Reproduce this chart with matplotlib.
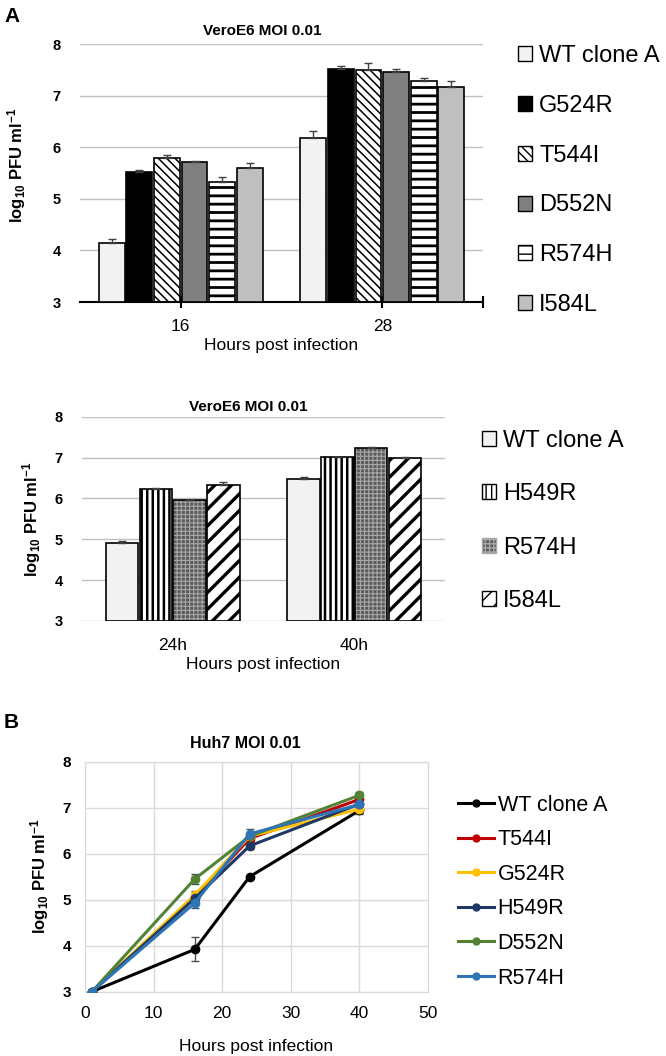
import matplotlib
matplotlib.use("Agg")
import matplotlib.pyplot as plt
from matplotlib.patches import Patch
from matplotlib.lines import Line2D
import numpy as np

plt.rcParams['font.family'] = ['Liberation Sans', 'DejaVu Sans']
plt.rcParams['mathtext.fontset'] = 'custom'
plt.rcParams['mathtext.rm'] = 'Liberation Sans:bold'
plt.rcParams['mathtext.it'] = 'Liberation Sans:bold'
plt.rcParams['mathtext.bf'] = 'Liberation Sans:bold'

# ---------------- data ----------------
a1_times = ['16', '28']
a1_strains = ['WT clone A', 'G524R', 'T544I', 'D552N', 'R574H', 'I584L']
a1_values = [[4.14, 5.51, 5.80, 5.71, 5.32, 5.59],
             [6.17, 7.51, 7.50, 7.45, 7.28, 7.17]]
a1_errors = [[0.08, 0.05, 0.05, 0.03, 0.11, 0.10],
             [0.14, 0.07, 0.13, 0.07, 0.06, 0.11]]

a2_times = ['24h', '40h']
a2_strains = ['WT clone A', 'H549R', 'R574H', 'I584L']
a2_values = [[4.90, 6.23, 5.95, 6.34],
             [6.47, 7.01, 7.23, 7.00]]
a2_errors = [[0.07, 0.02, 0.01, 0.06],
             [0.06, 0.01, 0.03, 0.01]]

b_hours = [1, 16, 24, 40]
b_strains = ['WT clone A', 'T544I', 'G524R', 'H549R', 'D552N', 'R574H']
b_values = [[3.0, 3.92, 5.50, 6.94],
            [3.0, 5.05, 6.33, 7.18],
            [3.0, 5.10, 6.38, 6.97],
            [3.0, 5.03, 6.17, 7.08],
            [3.0, 5.45, 6.38, 7.27],
            [3.0, 4.93, 6.43, 7.07]]
b_errors = [[0.0, 0.26, 0.04, 0.08],
            [0.0, 0.08, 0.08, 0.08],
            [0.0, 0.08, 0.08, 0.08],
            [0.0, 0.08, 0.06, 0.08],
            [0.0, 0.11, 0.08, 0.08],
            [0.0, 0.12, 0.10, 0.08]]

# ---------------- styles ----------------
W, H = 666, 1056
fig = plt.figure(figsize=(W / 100, H / 100), dpi=100)

def ax_at(l, t, r, b):
    return fig.add_axes([l / W, 1 - b / H, (r - l) / W, (b - t) / H])

a1_styles = [dict(fc='#f2f2f2', hatch=None, hc=None, hlw=1),
             dict(fc='#000000', hatch=None, hc=None, hlw=1),
             dict(fc='white', hatch='\\\\\\\\', hc='black', hlw=1.1),
             dict(fc='#808080', hatch=None, hc=None, hlw=1),
             dict(fc='white', hatch='--', hc='black', hlw=2.0),
             dict(fc='#bfbfbf', hatch=None, hc=None, hlw=1)]
a2_styles = [dict(fc='#f2f2f2', hatch=None, hc=None, hlw=1),
             dict(fc='white', hatch='|||', hc='black', hlw=1.8),
             dict(fc='#5c5c5c', hatch='++++', hc='#a8a8a8', hlw=0.8),
             dict(fc='white', hatch='//', hc='black', hlw=2.4)]

def set_hlw(p, lw):
    try:
        p.set_hatch_linewidth(lw)
    except AttributeError:
        pass

def draw_bar(ax, x, h, w, st, bottom=3):
    if st['hatch']:
        with plt.rc_context({'hatch.linewidth': st['hlw']}):
            bc = ax.bar(x, h - bottom, w, bottom=bottom, color=st['fc'], edgecolor=st['hc'],
                        hatch=st['hatch'], linewidth=0, zorder=2)
        for p in bc:
            set_hlw(p, st['hlw'])
        ax.bar(x, h - bottom, w, bottom=bottom, fill=False, edgecolor='black',
               linewidth=1.2, zorder=3)
    else:
        ax.bar(x, h - bottom, w, bottom=bottom, color=st['fc'], edgecolor='black',
               linewidth=1.2, zorder=3)

def legend_handles(styles, labels):
    hs = []
    for st, lab in zip(styles, labels):
        with plt.rc_context({'hatch.linewidth': st['hlw']}):
            p = Patch(facecolor=st['fc'], edgecolor=st['hc'] if st['hatch'] else 'black',
                      hatch=st['hatch'], linewidth=1.0, label=lab)
        set_hlw(p, st['hlw'])
        hs.append(p)
    return hs

ylab = r'log$_{10}$ PFU ml$^{-1}$'

# ---------------- A1 ----------------
ax1 = ax_at(80, 44, 483, 302)
n = len(a1_strains)
step, bw = 0.137, 0.128
for g in range(len(a1_times)):
    for i in range(n):
        x = g + (i - (n - 1) / 2) * step
        draw_bar(ax1, x, a1_values[g][i], bw, a1_styles[i])
        ax1.errorbar(x, a1_values[g][i], yerr=[[0], [a1_errors[g][i]]], fmt='none',
                     ecolor='#404040', elinewidth=1, capsize=3, capthick=1, zorder=4)
ax1.set_xlim(-0.5, 1.5)
ax1.set_ylim(3, 8)
ax1.set_yticks(range(3, 9))
ax1.yaxis.grid(True, color='#c0c0c0', linewidth=1)
ax1.set_axisbelow(True)
for s in ['top', 'right', 'left']:
    ax1.spines[s].set_visible(False)
ax1.spines['bottom'].set_linewidth(1.5)
ax1.set_xticks([0, 1, 1.5])
ax1.set_xticklabels(['16', '28', ''], fontsize=12.5)
ax1.tick_params(axis='x', direction='inout', length=8, width=1.5, pad=8)
ax1.tick_params(axis='y', length=0, labelsize=10.5, pad=14)
for t in ax1.get_yticklabels():
    t.set_fontweight('bold')
ax1.set_xlabel('Hours post infection', fontsize=12.5, labelpad=3)
ax1.set_ylabel(ylab, fontsize=12, fontweight='bold')
ax1.yaxis.set_label_coords(-0.129, 0.53)
fig.text(262 / W, 1 - 31 / H, 'VeroE6 MOI 0.01', ha='center', va='center',
         fontsize=11, fontweight='bold')
fig.text(4 / W, 1 - 16 / H, 'A', ha='left', va='center', fontsize=15, fontweight='bold')
fig.legend(handles=legend_handles(a1_styles, a1_strains), loc='upper left',
           bbox_to_anchor=(506 / W, 1 - 33 / H), frameon=False, fontsize=17,
           handlelength=0.6, handleheight=0.6, handletextpad=0.3,
           labelspacing=1.18, borderpad=0)

# ---------------- A2 ----------------
ax2 = ax_at(82, 416.7, 445, 621)
n = len(a2_strains)
step, bw = 0.186, 0.178
for g in range(len(a2_times)):
    for i in range(n):
        x = g + (i - (n - 1) / 2) * step
        draw_bar(ax2, x, a2_values[g][i], bw, a2_styles[i])
        ax2.errorbar(x, a2_values[g][i], yerr=[[0], [a2_errors[g][i]]], fmt='none',
                     ecolor='#404040', elinewidth=1, capsize=3, capthick=1, zorder=4)
ax2.set_xlim(-0.5, 1.5)
ax2.set_ylim(3, 8)
ax2.set_yticks(range(3, 9))
ax2.yaxis.grid(True, color='#c0c0c0', linewidth=1)
ax2.set_axisbelow(True)
for s in ['top', 'right', 'left', 'bottom']:
    ax2.spines[s].set_visible(False)
ax2.set_xticks([0, 1])
ax2.set_xticklabels(a2_times, fontsize=12.5)
ax2.tick_params(axis='x', length=0, pad=12)
ax2.tick_params(axis='y', length=0, labelsize=10.5, pad=14)
for t in ax2.get_yticklabels():
    t.set_fontweight('bold')
ax2.set_xlabel('Hours post infection', fontsize=12.5, labelpad=3)
ax2.set_ylabel(ylab, fontsize=12, labelpad=8, fontweight='bold')
fig.text(248 / W, 1 - 407 / H, 'VeroE6 MOI 0.01', ha='center', va='center',
         fontsize=11, fontweight='bold')
fig.legend(handles=legend_handles(a2_styles, a2_strains), loc='upper left',
           bbox_to_anchor=(470 / W, 1 - 418 / H), frameon=False, fontsize=17,
           handlelength=0.6, handleheight=0.6, handletextpad=0.3,
           labelspacing=1.33, borderpad=0)

# ---------------- B ----------------
ax3 = ax_at(85, 761.7, 428, 991.7)
b_colors = ['#000000', '#c00000', '#ffc000', '#1f3864', '#548235', '#2e75b6']
for vals, errs, col, lab in zip(b_values, b_errors, b_colors, b_strains):
    ax3.errorbar(b_hours, vals, yerr=errs, color=col, marker='o', markersize=6,
                 linewidth=2.2, ecolor='#505050', elinewidth=1, capsize=3, capthick=1,
                 label=lab, zorder=3)
ax3.set_xlim(0, 50)
ax3.set_ylim(3, 8)
ax3.set_xticks(range(0, 51, 10))
ax3.set_yticks(range(3, 9))
ax3.grid(True, color='#d9d9d9', linewidth=1)
ax3.set_axisbelow(True)
for s in ax3.spines.values():
    s.set_color('#d9d9d9')
ax3.tick_params(length=0)
ax3.tick_params(axis='x', labelsize=12.5, pad=10)
ax3.tick_params(axis='y', labelsize=11, pad=10)
for t in ax3.get_yticklabels():
    t.set_fontweight('bold')
ax3.set_xlabel('Hours post infection', fontsize=12.5, labelpad=13)
ax3.set_ylabel(ylab, fontsize=12, labelpad=8, fontweight='bold')
fig.text(245 / W, 1 - 744 / H, 'Huh7 MOI 0.01', ha='center', va='center',
         fontsize=11.5, fontweight='bold')
fig.text(4 / W, 1 - 722 / H, 'B', ha='left', va='center', fontsize=15, fontweight='bold')
hb = [Line2D([0], [0], color=c, marker='o', markersize=5, linewidth=2.2, label=l)
      for c, l in zip(b_colors, b_strains)]
fig.legend(handles=hb, loc='upper left', bbox_to_anchor=(447 / W, 1 - 784 / H),
           frameon=False, fontsize=15.5, handlelength=1.7, handletextpad=0.15,
           labelspacing=0.63, borderpad=0)

fig.savefig('out.png', dpi=100)
